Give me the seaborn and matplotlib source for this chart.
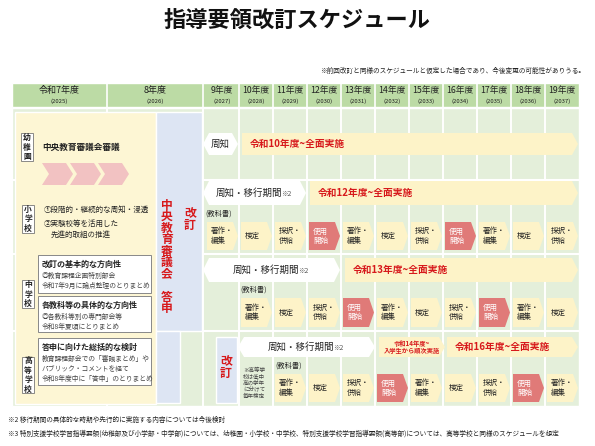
import matplotlib
matplotlib.use("Agg")
import matplotlib.pyplot as plt
import seaborn as sns
from matplotlib.patches import Polygon, Rectangle

sns.set_theme(style="white")
plt.rcParams['font.family'] = ['Noto Sans CJK JP', 'DejaVu Sans']

# ---- data ----
title = "指導要領改訂スケジュール"
note_top = "※前回改訂と同様のスケジュールと仮定した場合であり、今後変更の可能性がありうる。"
early_years = ["令和7年度", "8年度"]
early_ce = ["(2025)", "(2026)"]
years = ["9年度", "10年度", "11年度", "12年度", "13年度", "14年度", "15年度", "16年度", "17年度", "18年度", "19年度"]
years_ce = ["(2027)", "(2028)", "(2029)", "(2030)", "(2031)", "(2032)", "(2033)", "(2034)", "(2035)", "(2036)", "(2037)"]
stages = ["著作・\n編集", "検定", "採択・\n供給", "使用\n開始"]
school_labels = ["幼稚園", "小学校", "中学校", "高等学校"]
notice_labels = ["周知", "周知・移行期間 ※2", "周知・移行期間 ※2", "周知・移行期間 ※2"]
impl_labels = ["令和10年度~全面実施", "令和12年度~全面実施", "令和13年度~全面実施", "令和16年度~全面実施"]
tb_start_col = [None, 0, 1, 2]       # first textbook-cycle column (index into years)
footnotes = ["※2 移行期間の具体的な時期や先行的に実施する内容については今後検討",
             "※3 特別支援学校学習指導要領(幼稚部及び小学部・中学部)については、幼稚園・小学校・中学校、特別支援学校学習指導要領(高等部)については、高等学校と同様のスケジュールを想定"]

fig = plt.figure(figsize=(5.95, 4.46), dpi=100)
ax = fig.add_axes([0, 0, 1, 1])
ax.set_xlim(0, 595); ax.set_ylim(446, 0); ax.axis("off")

def T(x, y, s, size=5.5, color="#222", weight="normal", ha="left", va="center", **kw):
    ax.text(x, y, s, fontsize=size, color=color, fontweight=weight, ha=ha, va=va, **kw)

def poly(pts, fc, ec="none", lw=0.6, z=2):
    ax.add_patch(Polygon(pts, closed=True, fc=fc, ec=ec, lw=lw, zorder=z))

def hexa(x0, x1, y0, y1, fc="white"):
    ym = (y0+y1)/2; d = 6
    poly([(x0, ym), (x0+d, y0), (x1-d, y0), (x1, ym), (x1-d, y1), (x0+d, y1)], fc)

def arrow(x0, x1, y0, y1, fc="#fdf3c8", d=6):
    ym = (y0+y1)/2
    poly([(x0, y0), (x1-d, y0), (x1, ym), (x1-d, y1), (x0, y1)], fc)

def vtext(x, y0, s, step, size, color="#d7191c"):
    for k, ch in enumerate(s):
        T(x, y0+step*k, ch, size=size, weight="bold", color=color, ha="center", zorder=4)

T(297, 20, title, size=16, weight="bold", ha="center", color="#111")
T(585, 71, note_top, size=4.8, ha="right")

GREEN_H = "#bcdba5"; GREEN_B = "#e4efda"
ax.add_patch(Rectangle((12, 83), 567, 24, fc=GREEN_H, zorder=1))
col0 = 205; cw = 34
cx = lambda i: col0 + cw*i
bounds = [12, 107, 203] + [cx(i) for i in range(1, 12)]
for b in bounds[1:-1]:
    ax.plot([b, b], [83, 406], color="white", lw=1.2, zorder=1.5)
for i, (a, c) in enumerate(zip(early_years, early_ce)):
    xc = (bounds[i]+bounds[i+1])/2
    T(xc, 91, a, size=6.5, ha="center"); T(xc, 101, c, size=4.3, ha="center")
for i, (a, c) in enumerate(zip(years, years_ce)):
    xc = cx(i)+cw/2
    T(xc, 91, a, size=6.3, ha="center"); T(xc, 101, c, size=4.3, ha="center")
ax.add_patch(Rectangle((12, 108), 567, 298, fc=GREEN_B, zorder=1))
for b in bounds[1:-1]:
    ax.plot([b, b], [108, 406], color="white", lw=1.2, zorder=1.2)
for y in [180, 254, 331]:
    ax.plot([12, 579], [y, y], color="white", lw=1.5, zorder=1.2)

ax.add_patch(Rectangle((15, 112), 141, 292, fc="#fdf6d4", zorder=1.5))
ax.add_patch(Rectangle((156, 112), 46, 219, fc="#dde5f3", zorder=1.5))
ax.add_patch(Rectangle((156, 331), 24, 72, fc="#dde5f3", zorder=1.5))
vtext(167, 205, "中央教育審議会", 11.5, 8.5)
vtext(167, 297, "答申", 11.5, 8.5)
vtext(190, 214, "改訂", 11.5, 8.5)

lab_pos = [(27, 147), (28, 219), (28, 294), (28, 375)]
for s, (x, y) in zip(school_labels, lab_pos):
    h = 8.2*len(s)+4
    ax.add_patch(Rectangle((x-6, y-h/2), 12, h, fc="white", ec="#777", lw=0.6, zorder=3))
    T(x, y, "\n".join(s), size=5.6, weight="bold", ha="center", linespacing=1.05, zorder=4)

T(42, 147, "中央教育審議会審議", size=6.2, weight="bold")
for k in range(3):
    x0 = 42 + 28*k
    poly([(x0, 163), (x0+24, 163), (x0+31, 174), (x0+24, 185), (x0, 185), (x0+7, 174)], "#f2c2c2")
T(44, 210, "①段階的・継続的な周知・浸透", size=5.4)
T(44, 224, "②実験校等を活用した", size=5.4)
T(51, 235, "先進的取組の推進", size=5.4)

boxes = [(255, 293, "改訂の基本的な方向性", ["◎教育課程企画特別部会", "令和7年9月に論点整理のとりまとめ"]),
         (296, 332, "各教科等の具体的な方向性", ["◎各教科等別の専門部会等", "令和8年夏頃にとりまとめ"]),
         (338, 385, "答申に向けた総括的な検討", ["教育課程部会での「審議まとめ」や", "パブリック・コメントを経て", "令和8年度中に「答申」のとりまとめ"])]
for y0, y1, head, lines in boxes:
    ax.add_patch(Rectangle((38, y0), 113, y1-y0, fc="white", ec="#888", lw=0.7, zorder=3))
    T(42, y0+9, head, size=5.8, weight="bold", zorder=4)
    for j, l in enumerate(lines):
        T(42, y0+21+10*j, l, size=4.9, color="#444", zorder=4)

rows = [dict(n=(203, 238), y=(133, 155), impl=(242, 578)),
        dict(n=(203, 306), y=(181, 205), impl=(310, 578)),
        dict(n=(203, 340), y=(258, 282), impl=(345, 578)),
        dict(n=(238, 375), y=(337, 357), impl=(447, 578))]
for r, nl, il in zip(rows, notice_labels, impl_labels):
    (x0, x1), (y0, y1) = r["n"], r["y"]
    hexa(x0, x1, y0, y1)
    ym = (y0+y1)/2
    if "※2" in nl:
        base = nl.replace(" ※2", "")
        T((x0+x1)/2-6, ym, base, size=6.8, ha="center")
        T((x0+x1)/2+32, ym+1, "※2", size=4.8, ha="center", color="#555")
    else:
        T((x0+x1)/2, ym, nl, size=6.8, ha="center")
    arrow(r["impl"][0], r["impl"][1], y0, y1)
    T(r["impl"][0]+8, ym, il, size=7, weight="bold", color="#d7191c")
arrow(379, 445, 337, 357)
T(412, 347, "令和14年度~\n入学生から順次実施", size=4.5, weight="bold", color="#d7191c", ha="center", linespacing=1.1)
ax.add_patch(Rectangle((216, 337), 21, 66, fc="#dde5f3", zorder=2))
vtext(226, 362, "改訂", 11.5, 8.5)
T(243, 383, "※高等学\n校は低中\n高の学年\nに分けて\n毎年検定", size=4.0, color="#444", linespacing=1.2)

cyc_y = [None, (222, 250), (298, 327), (374, 402)]
tb_lbl_x = [None, 205, 240, 275]
for st, yy, lx in zip(tb_start_col, cyc_y, tb_lbl_x):
    if st is None:
        continue
    T(lx, yy[0]-8, "(教科書)", size=5.2)
    for k, i in enumerate(range(st, len(years))):
        s = stages[k % 4]
        use = s.startswith("使用")
        arrow(cx(i)+2, cx(i)+cw-1, yy[0], yy[1], fc="#e07a78" if use else "#fdf3c8", d=5)
        T(cx(i)+6, (yy[0]+yy[1])/2, s, size=5.4, color="white" if use else "#222", linespacing=1.2)

for j, f in enumerate(footnotes):
    T(8, 420+14*j, f, size=4.8)

fig.savefig("out.png", dpi=100)
